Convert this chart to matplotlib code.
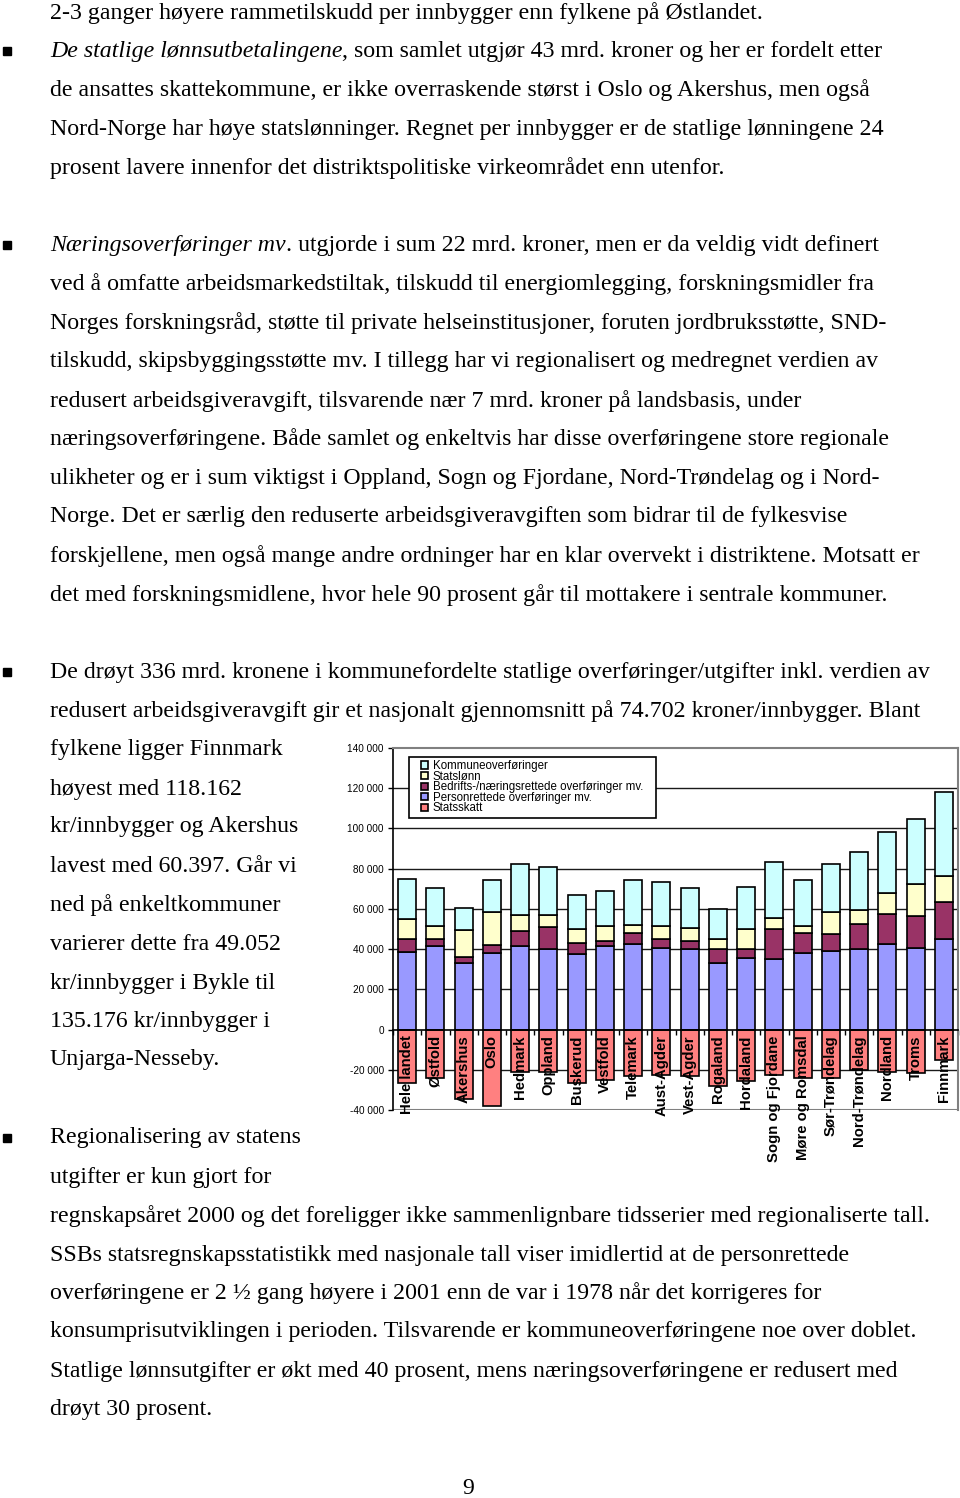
import numpy as np
import matplotlib
matplotlib.use("Agg")
import matplotlib.pyplot as plt
from matplotlib.patches import Patch, Rectangle
from matplotlib.text import Annotation

W, H = 960, 1498

# chart data (kr per innbygger)
categories = ["Hele landet", "Østfold", "Akershus", "Oslo", "Hedmark", "Oppland",
              "Buskerud", "Vestfold", "Telemark", "Aust-Agder", "Vest-Agder",
              "Rogaland", "Hordaland", "Sogn og Fjordane", "Møre og Romsdal",
              "Sør-Trøndelag", "Nord-Trøndelag", "Nordland", "Troms", "Finnmark"]
personrettede = [38600, 41600, 32900, 37900, 41600, 39900, 37700, 41600, 42400, 40700,
                 39900, 32900, 35700, 35200, 37900, 39100, 39900, 42700, 40700, 44900]
bedrifts = [6600, 3600, 3300, 4300, 7500, 10900, 5200, 2500, 5500, 4500,
            4200, 7300, 4500, 14700, 10000, 8300, 12500, 14700, 15800, 18300]
statslonn = [9700, 6300, 13200, 16500, 7900, 6200, 7000, 7400, 4100, 6300,
             6600, 4700, 9700, 5800, 3600, 11300, 7000, 10300, 15800, 13300]
kommune = [19800, 18700, 11000, 15600, 25300, 23800, 17100, 17200, 22300, 22000,
           19500, 15000, 21100, 27400, 22800, 23600, 28700, 30700, 32400, 41700]
statsskatt = [-26600, -24100, -34600, -37900, -21100, -21100, -26600, -24900, -23300, -22600,
              -23300, -28300, -25800, -22600, -24100, -24100, -20300, -21100, -21800, -15300]

legend_labels = ["Kommuneoverføringer", "Statslønn", "Bedrifts-/næringsrettede overføringer mv.",
                 "Personrettede overføringer mv.", "Statsskatt"]
yticks = [-40000, -20000, 0, 20000, 40000, 60000, 80000, 100000, 120000, 140000]
ytick_labels = ["-40 000", "-20 000", "0", "20 000", "40 000", "60 000", "80 000",
                "100 000", "120 000", "140 000"]

# page text: (y centre in px, [(text, italic?)], bullet?)
page_lines = [
    (12, [("2-3 ganger høyere rammetilskudd per innbygger enn fylkene på Østlandet.", False)], False),
    (50, [("De statlige lønnsutbetalingene", True),
          (", som samlet utgjør 43 mrd. kroner og her er fordelt etter", False)], True),
    (89, [("de ansattes skattekommune, er ikke overraskende størst i Oslo og Akershus, men også", False)], False),
    (128, [("Nord-Norge har høye statslønninger. Regnet per innbygger er de statlige lønningene 24", False)], False),
    (167, [("prosent lavere innenfor det distriktspolitiske virkeområdet enn utenfor.", False)], False),
    (244, [("Næringsoverføringer mv", True),
           (". utgjorde i sum 22 mrd. kroner, men er da veldig vidt definert", False)], True),
    (283, [("ved å omfatte arbeidsmarkedstiltak, tilskudd til energiomlegging, forskningsmidler fra", False)], False),
    (322, [("Norges forskningsråd, støtte til private helseinstitusjoner, foruten jordbruksstøtte, SND-", False)], False),
    (361, [("tilskudd, skipsbyggingsstøtte mv. I tillegg har vi regionalisert og medregnet verdien av", False)], False),
    (400, [("redusert arbeidsgiveravgift, tilsvarende nær 7 mrd. kroner på landsbasis, under", False)], False),
    (438, [("næringsoverføringene. Både samlet og enkeltvis har disse overføringene store regionale", False)], False),
    (477, [("ulikheter og er i sum viktigst i Oppland, Sogn og Fjordane, Nord-Trøndelag og i Nord-", False)], False),
    (516, [("Norge. Det er særlig den reduserte arbeidsgiveravgiften som bidrar til de fylkesvise", False)], False),
    (555, [("forskjellene, men også mange andre ordninger har en klar overvekt i distriktene. Motsatt er", False)], False),
    (594, [("det med forskningsmidlene, hvor hele 90 prosent går til mottakere i sentrale kommuner.", False)], False),
    (671, [("De drøyt 336 mrd. kronene i kommunefordelte statlige overføringer/utgifter inkl. verdien av", False)], True),
    (710, [("redusert arbeidsgiveravgift gir et nasjonalt gjennomsnitt på 74.702 kroner/innbygger. Blant", False)], False),
    (749, [("fylkene ligger Finnmark", False)], False),
    (788, [("høyest med 118.162", False)], False),
    (826, [("kr/innbygger og Akershus", False)], False),
    (865, [("lavest med 60.397. Går vi", False)], False),
    (904, [("ned på enkeltkommuner", False)], False),
    (943, [("varierer dette fra 49.052", False)], False),
    (982, [("kr/innbygger i Bykle til", False)], False),
    (1020, [("135.176 kr/innbygger i", False)], False),
    (1059, [("Unjarga-Nesseby.", False)], False),
    (1137, [("Regionalisering av statens", False)], True),
    (1176, [("utgifter er kun gjort for", False)], False),
    (1215, [("regnskapsåret 2000 og det foreligger ikke sammenlignbare tidsserier med regionaliserte tall.", False)], False),
    (1254, [("SSBs statsregnskapsstatistikk med nasjonale tall viser imidlertid at de personrettede", False)], False),
    (1292, [("overføringene er 2 ½ gang høyere i 2001 enn de var i 1978 når det korrigeres for", False)], False),
    (1331, [("konsumprisutviklingen i perioden. Tilsvarende er kommuneoverføringene noe over doblet.", False)], False),
    (1370, [("Statlige lønnsutgifter er økt med 40 prosent, mens næringsoverføringene er redusert med", False)], False),
    (1409, [("drøyt 30 prosent.", False)], False),
]

fig = plt.figure(figsize=(W / 100, H / 100), dpi=100)
fig.patch.set_facecolor("white")

serif = "Liberation Serif"
sans = "Liberation Sans"
fs = 17.2


def fx(x):
    return x / W


def fy(y):
    return 1 - y / H


# body text, italic pieces followed by plain text on the same line
for y, segs, bullet in page_lines:
    last = None
    for text, italic in segs:
        style = "italic" if italic else "normal"
        if last is None:
            last = fig.text(fx(50), fy(y + 1), text, fontsize=fs, family=serif, style=style,
                            ha="left", va="center")
        else:
            last = fig.add_artist(Annotation(text, xy=(1, 0), xycoords=last, fontsize=fs,
                                             family=serif, style=style, ha="left", va="bottom"))
    if bullet:
        fig.add_artist(Rectangle((fx(3), fy(y + 5)), 8 / W, 8 / H,
                                 transform=fig.transFigure, color="black"))

fig.text(fx(468), fy(1489), "9", fontsize=fs, family=serif, ha="center", va="center")

# chart
ax = fig.add_axes([fx(393), fy(1110), 565 / W, 362 / H])
x = np.arange(len(categories))
bar_kw = dict(width=0.64, edgecolor="black", linewidth=1.2, zorder=2)
colors = {"K": "#CCFFFF", "S": "#FFFFCC", "B": "#993366", "P": "#9999FF", "T": "#FF8080"}

bottom = np.zeros(len(categories))
for vals, key in [(personrettede, "P"), (bedrifts, "B"), (statslonn, "S"), (kommune, "K")]:
    ax.bar(x, vals, bottom=bottom, color=colors[key], **bar_kw)
    bottom = bottom + np.array(vals)
ax.bar(x, statsskatt, color=colors["T"], **bar_kw)

ax.set_xlim(-0.5, len(categories) - 0.5)
ax.set_ylim(yticks[0], yticks[-1])
ax.set_yticks(yticks)
ax.set_yticklabels(ytick_labels)
for v in yticks[1:-1]:
    if v != 0:
        ax.axhline(v, color="#1a1a1a", lw=1.0, zorder=0.5)
ax.axhline(yticks[0], color="#808080", lw=1.5, zorder=0.5)

for side in ["top", "right"]:
    ax.spines[side].set_color("#808080")
    ax.spines[side].set_linewidth(1.5)
ax.spines["left"].set_linewidth(1.2)
ax.spines["bottom"].set_position(("data", 0))
ax.spines["bottom"].set_linewidth(1.2)
ax.spines["bottom"].set_zorder(3)

ax.set_xticks(np.arange(-0.5, len(categories), 1))
ax.set_xticklabels([])
ax.tick_params(axis="x", direction="out", length=3.5, width=1)
ax.tick_params(axis="y", direction="out", length=3.5, width=1, pad=3, labelsize=7.2)
for lab in ax.get_yticklabels():
    lab.set_family(sans)

for i, cat in enumerate(categories):
    ax.text(i, -2800, cat, rotation=90, ha="center", va="top", fontsize=10.7,
            fontweight="bold", family=sans, zorder=5, clip_on=False)

# legend: entries without frame, box drawn separately
handles = [Patch(facecolor=colors[k], edgecolor="black", linewidth=1.2)
           for k in ["K", "S", "B", "P", "T"]]
leg = ax.legend(handles, legend_labels, loc="upper left",
                bbox_to_anchor=(fx(421), fy(760)), bbox_transform=fig.transFigure,
                borderaxespad=0, frameon=False,
                prop={"family": sans, "size": 8.3},
                handlelength=0.6, handleheight=0.6, handletextpad=0.4,
                labelspacing=-0.12, borderpad=0)
leg.set_zorder(7)
box = Rectangle((fx(409), fy(818)), 247 / W, 61 / H, transform=fig.transFigure,
                facecolor="white", edgecolor="black", linewidth=1.2, zorder=6)
ax.add_artist(box)
box.set_clip_on(False)

fig.savefig("out.png", dpi=100)
